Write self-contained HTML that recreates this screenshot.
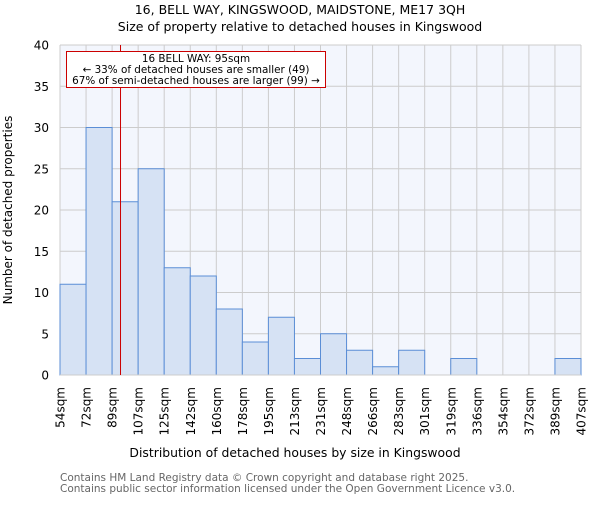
<!DOCTYPE html>
<html><head><meta charset="utf-8"><style>
body{margin:0;background:#fff;}
svg text{font-family:"DejaVu Sans","Liberation Sans",sans-serif;}
</style></head><body>
<svg width="600" height="500" xmlns="http://www.w3.org/2000/svg" id="chart">
<text x="300" y="14" text-anchor="middle" font-size="12.5" fill="#000">16, BELL WAY, KINGSWOOD, MAIDSTONE, ME17 3QH</text>
<text x="300" y="31" text-anchor="middle" font-size="12.5" fill="#000">Size of property relative to detached houses in Kingswood</text>
<rect x="60" y="45" width="521" height="330" fill="#f3f6fd"/>
<g id="grid"></g>
<g id="bars"></g>
<g id="yticks"></g>
<g id="xticks"></g>
<line id="redline" stroke="#cc0000" stroke-width="1"/>
<g>
<rect x="66.5" y="51.5" width="259" height="36" fill="#fff" stroke="#cc0000" stroke-width="1"/>
<text x="196" y="62" text-anchor="middle" font-size="10.4">16 BELL WAY: 95sqm</text>
<text x="196" y="73" text-anchor="middle" font-size="10.4">← 33% of detached houses are smaller (49)</text>
<text x="196" y="84" text-anchor="middle" font-size="10.4">67% of semi-detached houses are larger (99) →</text>
</g>
<text x="295" y="457" text-anchor="middle" font-size="12.4">Distribution of detached houses by size in Kingswood</text>
<text transform="translate(12,210) rotate(-90)" text-anchor="middle" font-size="12">Number of detached properties</text>
<text x="60" y="481" font-size="10.5" fill="#666">Contains HM Land Registry data © Crown copyright and database right 2025.</text>
<text x="60" y="492" font-size="10.5" fill="#666">Contains public sector information licensed under the Open Government Licence v3.0.</text>
</svg>
<script>
const tickLabels=["54sqm","72sqm","89sqm","107sqm","125sqm","142sqm","160sqm","178sqm","195sqm","213sqm","231sqm","248sqm","266sqm","283sqm","301sqm","319sqm","336sqm","354sqm","372sqm","389sqm","407sqm"];
const counts=[11,30,21,25,13,12,8,4,7,2,5,3,1,3,0,2,0,0,0,2];
const yTicks=[0,5,10,15,20,25,30,35,40];
const binStart=54, binEnd=407;
const propertySize=95;
const X0=60,X1=581,Y0=375,Y1=45,YMAX=40;
const n=counts.length, bw=(X1-X0)/n;
const xs=i=>X0+i*bw;
const xv=v=>X0+(v-binStart)/(binEnd-binStart)*(X1-X0);
const y=v=>Y0-v/YMAX*(Y0-Y1);
const NS="http://www.w3.org/2000/svg";
function mk(t,a,p){const e=document.createElementNS(NS,t);for(const k in a)e.setAttribute(k,a[k]);p.appendChild(e);return e;}
const grid=document.getElementById('grid'),bars=document.getElementById('bars'),yt=document.getElementById('yticks'),xt=document.getElementById('xticks');
yTicks.forEach(v=>{
  const l=mk('line',{x1:X0,x2:X1,y1:y(v),y2:y(v),stroke:'#cccccc','stroke-width':1},grid);
  
  
  const t=mk('text',{x:X0-11,y:y(v)+4.5,'text-anchor':'end','font-size':12},yt);
  t.textContent=v;
  
  
});
tickLabels.forEach((s,i)=>{
  const l=mk('line',{x1:xs(i),x2:xs(i),y1:Y1,y2:Y0,stroke:'#cccccc','stroke-width':1},grid);
  
  
  const t=mk('text',{transform:`translate(${xs(i)+4.5},${Y0+12}) rotate(-90)`,'text-anchor':'end','font-size':12},xt);
  t.textContent=s;
  
  
});
counts.forEach((c,i)=>{
  if(c<=0)return;
  const r=mk('rect',{x:xs(i),y:y(c),width:bw,height:Y0-y(c),fill:'#d6e2f4',stroke:'#5b8ed6','stroke-width':1},bars);
  
  
});
const bl=mk('line',{x1:X0,x2:X1,y1:Y0,y2:Y0,stroke:'#cccccc','stroke-width':1},bars);


const rl=document.getElementById('redline');
const px=xv(propertySize);
rl.setAttribute('x1',px);rl.setAttribute('x2',px);rl.setAttribute('y1',Y1);rl.setAttribute('y2',Y0);
</script>
</body></html>
